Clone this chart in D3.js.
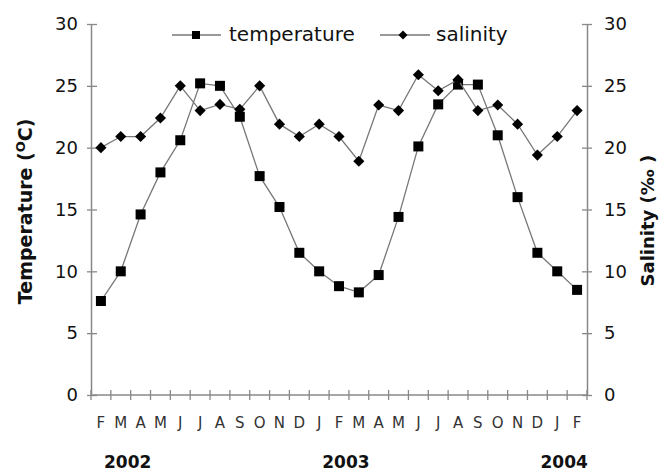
<!DOCTYPE html>
<html>
<head>
<meta charset="utf-8">
<script src="https://cdn.jsdelivr.net/npm/d3@7"></script>
<style>
  body { margin: 0; background: #fff; }
  svg { display: block; font-family: "DejaVu Sans", Verdana, sans-serif; }
</style>
</head>
<body>
<div id="chart"></div>
<script>
var months = ["F", "M", "A", "M", "J", "J", "A", "S", "O", "N", "D", "J",
              "F", "M", "A", "M", "J", "J", "A", "S", "O", "N", "D", "J", "F"];
var temperature = [7.6, 10, 14.6, 18, 20.6, 25.2, 25, 22.5, 17.7, 15.2, 11.5, 10,
                   8.8, 8.3, 9.7, 14.4, 20.1, 23.5, 25.1, 25.1, 21, 16, 11.5, 10, 8.5];
var salinity = [20, 20.9, 20.9, 22.4, 25, 23, 23.5, 23.1, 25, 21.9, 20.9, 21.9,
                20.9, 18.9, 23.45, 23, 25.9, 24.6, 25.5, 23, 23.45, 21.9, 19.4, 20.9, 23];
var yTicks = [0, 5, 10, 15, 20, 25, 30];
var years = ["2002", "2003", "2004"];
var yearMonth = [1, 12, 23]; // month index under which each year label sits

var WIDTH = 666, HEIGHT = 472,
    margin = {top: 24, right: 79, bottom: 77, left: 91},
    AXIS_COLOR = "#888",
    LINE_COLOR = "#777";

var svg = d3.select("#chart").append("svg")
  .attr("width", WIDTH)
  .attr("height", HEIGHT);

var plotW = WIDTH - margin.left - margin.right,
    plotH = HEIGHT - margin.top - margin.bottom;

var g = svg.append("g")
  .attr("transform", "translate(" + margin.left + "," + margin.top + ")");

var x = d3.scaleBand().domain(d3.range(months.length)).range([0, plotW]);
var yLeft = d3.scaleLinear().domain([0, 30]).range([plotH, 0]);
var yRight = d3.scaleLinear().domain([0, 30]).range([plotH, 0]);
var cx = function(i) { return x(i) + x.bandwidth() / 2; };

// left axis
var leftAxis = g.append("g")
  .call(d3.axisLeft(yLeft).tickValues(yTicks).tickSize(4).tickPadding(9).tickSizeOuter(0));
leftAxis.selectAll("line").attr("x2", -4).attr("x1", 6);
// right axis
var rightAxis = g.append("g")
  .attr("transform", "translate(" + plotW + ",0)")
  .call(d3.axisRight(yRight).tickValues(yTicks).tickSize(5).tickPadding(12).tickSizeOuter(0));
rightAxis.selectAll("line").attr("x1", -5);
// bottom axis: ticks on month boundaries
var bottom = g.append("g").attr("transform", "translate(0," + plotH + ")");
bottom.append("line").attr("x1", 0).attr("x2", plotW)
  .attr("stroke", AXIS_COLOR).attr("stroke-width", 1.5);
bottom.selectAll("line.tick").data(d3.range(months.length + 1)).enter().append("line")
  .attr("class", "tick")
  .attr("x1", function(i) { return i * x.step(); })
  .attr("x2", function(i) { return i * x.step(); })
  .attr("y1", -5).attr("y2", 5)
  .attr("stroke", AXIS_COLOR).attr("stroke-width", 1.3);
bottom.selectAll("text.month").data(months).enter().append("text")
  .attr("class", "month")
  .attr("x", function(d, i) { return cx(i); })
  .attr("y", 33)
  .attr("text-anchor", "middle")
  .attr("font-size", 15)
  .attr("fill", "#333")
  .text(function(d) { return d; });
bottom.selectAll("text.year").data(years).enter().append("text")
  .attr("class", "year")
  .attr("x", function(d, i) { return cx(yearMonth[i]) + x.step() * 0.35; })
  .attr("y", 73)
  .attr("text-anchor", "middle")
  .attr("font-size", 17)
  .attr("font-weight", "bold")
  .attr("fill", "#111")
  .text(function(d) { return d; });

[leftAxis, rightAxis].forEach(function(a) {
  a.select(".domain").attr("stroke", AXIS_COLOR).attr("stroke-width", 1.5);
  a.selectAll(".tick line").attr("stroke", AXIS_COLOR).attr("stroke-width", 1.3);
  a.selectAll(".tick text").attr("font-size", 18).attr("fill", "#111")
    .attr("font-family", "DejaVu Sans, sans-serif");
});

// series
var line = d3.line().x(function(d, i) { return cx(i); });

g.append("path").datum(temperature)
  .attr("d", line.y(function(d) { return yLeft(d); }))
  .attr("fill", "none").attr("stroke", LINE_COLOR).attr("stroke-width", 1.3);
g.selectAll("rect.temp").data(temperature).enter().append("rect")
  .attr("class", "temp")
  .attr("x", function(d, i) { return cx(i) - 5; })
  .attr("y", function(d) { return yLeft(d) - 5; })
  .attr("width", 10).attr("height", 10)
  .attr("fill", "#000");

g.append("path").datum(salinity)
  .attr("d", line.y(function(d) { return yRight(d); }))
  .attr("fill", "none").attr("stroke", LINE_COLOR).attr("stroke-width", 1.3);
var diamond = d3.symbol().type(d3.symbolSquare).size(62);
g.selectAll("path.sal").data(salinity).enter().append("path")
  .attr("class", "sal")
  .attr("d", diamond)
  .attr("transform", function(d, i) { return "translate(" + cx(i) + "," + yRight(d) + ") rotate(45)"; })
  .attr("fill", "#000");

// legend
var legend = svg.append("g").attr("transform", "translate(0,35)");
var temp = legend.append("g").attr("transform", "translate(172,0)");
temp.append("line").attr("x1", 0).attr("x2", 49).attr("stroke", LINE_COLOR).attr("stroke-width", 1.5);
temp.append("rect").attr("x", 20).attr("y", -4).attr("width", 8).attr("height", 8).attr("fill", "#000");
temp.append("text").attr("x", 57).attr("dy", "0.32em").attr("font-size", 20).attr("fill", "#111").text("temperature");
var sal = legend.append("g").attr("transform", "translate(380,0)");
sal.append("line").attr("x1", 0).attr("x2", 50).attr("stroke", LINE_COLOR).attr("stroke-width", 1.5);
sal.append("path").attr("d", d3.symbol().type(d3.symbolSquare).size(40))
  .attr("transform", "translate(23,0) rotate(45)").attr("fill", "#000");
sal.append("text").attr("x", 56).attr("dy", "0.32em").attr("font-size", 20).attr("fill", "#111").text("salinity");

// axis titles
var tTitle = svg.append("text")
  .attr("transform", "translate(32," + (margin.top + plotH * 0.505) + ") rotate(-90)")
  .attr("text-anchor", "middle")
  .attr("font-size", 19).attr("font-weight", "bold").attr("fill", "#111");
tTitle.append("tspan").text("Temperature (");
tTitle.append("tspan").attr("font-size", 13).attr("dy", -7).text("O");
tTitle.append("tspan").attr("dy", 7).text("C)");

svg.append("text")
  .attr("transform", "translate(654," + (margin.top + plotH * 0.53) + ") rotate(-90)")
  .attr("text-anchor", "middle")
  .attr("font-size", 18).attr("font-weight", "bold").attr("fill", "#111")
  .text("Salinity (\u2030 )");
</script>
</body>
</html>
